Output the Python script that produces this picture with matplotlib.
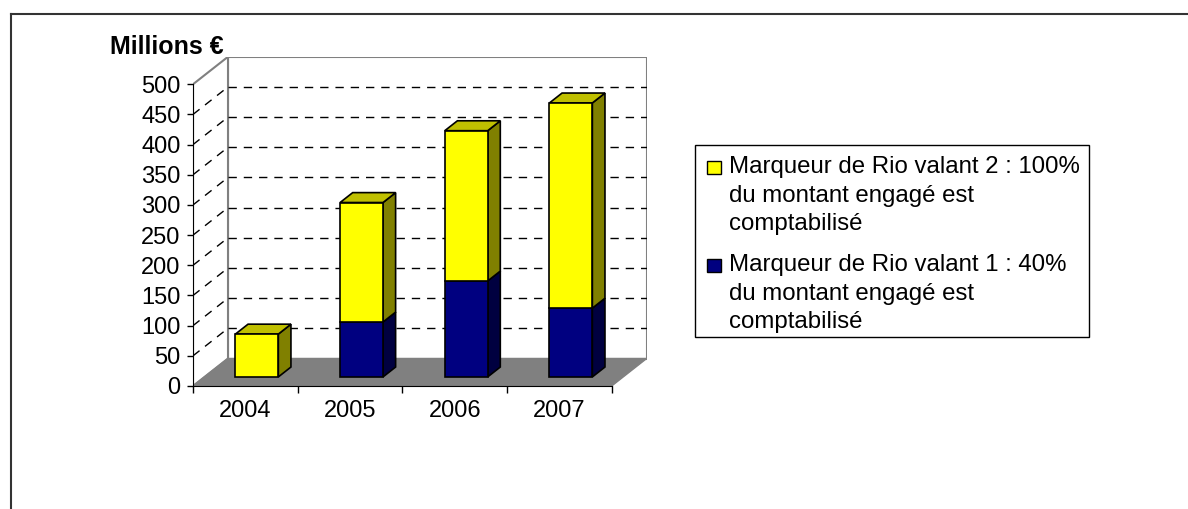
import numpy as np
import matplotlib.pyplot as plt
from matplotlib.patches import Polygon, Rectangle
from matplotlib.lines import Line2D

plt.rcParams['font.family'] = ['Liberation Sans', 'DejaVu Sans']

# data (millions of euros)
years = ['2004', '2005', '2006', '2007']
rio_1 = [0, 91, 159, 114]      # marqueur 1 : 40 %
rio_2 = [71, 198, 249, 340]    # marqueur 2 : 100 %
labels = ['Marqueur de Rio valant 2 : 100%\ndu montant engagé est\ncomptabilisé',
          'Marqueur de Rio valant 1 : 40%\ndu montant engagé est\ncomptabilisé']
yticks = list(range(0, 501, 50))

# colours: front / side / top
c_front = {'r1': '#000080', 'r2': '#FFFF00'}
c_side = {'r1': '#000040', 'r2': '#808000'}
c_top = {'r1': '#000060', 'r2': '#C0C000'}

W, H = 1188, 509
fig = plt.figure(figsize=(W / 100, H / 100), dpi=100)

# pixel layout of the pseudo-3d box
ax_left = 193
y_zero = 386
px_unit = 0.6035
cat_px = (611.7 - 193) / 4
dx_px, dy_px = 35, 27.5
DX = dx_px / cat_px
DY = dy_px / px_unit
ymax = 500
n = len(years)
top_px = y_zero - (ymax + DY) * px_unit
ax = fig.add_axes([ax_left / W, 1 - y_zero / H,
                   (n * cat_px + dx_px) / W, (y_zero - top_px) / H])
ax.set_xlim(-0.5, n - 0.5 + DX)
ax.set_ylim(0, ymax + DY)
ax.patch.set_visible(False)

xl, xr = -0.5, n - 0.5
wall_kw = dict(facecolor='white', edgecolor='#808080', lw=1.5, zorder=1)
ax.add_patch(Polygon([(xl + DX, DY), (xr + DX, DY), (xr + DX, ymax + DY),
                      (xl + DX, ymax + DY)], closed=True, **wall_kw))
ax.add_patch(Polygon([(xl, 0), (xl + DX, DY), (xl + DX, ymax + DY), (xl, ymax)],
                     closed=True, **wall_kw))
ax.add_patch(Polygon([(xl, 0), (xr, 0), (xr + DX, DY), (xl + DX, DY)], closed=True,
                     facecolor='#808080', edgecolor='#808080', lw=1, zorder=1.2))

# dashed gridlines on back wall and side wall
for v in yticks[1:-1]:
    ax.plot([xl + DX, xr + DX], [v + DY, v + DY], color='black', lw=1,
            ls=(0, (6, 5)), zorder=1.5)
    ax.plot([xl, xl + DX], [v, v + DY], color='black', lw=1,
            ls=(0, (6, 5)), zorder=1.5)

# bars
F0, F1 = 0.33, 0.69
BW = 0.41
ddx, ddy = (F1 - F0) * DX, (F1 - F0) * DY


def draw_segment(i, bottom, height, key, is_top):
    if height <= 0:
        return
    xc = i + F0 * DX
    ax.bar(xc, height, width=BW, bottom=bottom + F0 * DY, color=c_front[key],
           edgecolor='black', lw=1.2, zorder=4)
    xb = xc + BW / 2
    xa = xc - BW / 2
    ya, yb = bottom + F0 * DY, bottom + height + F0 * DY
    ax.add_patch(Polygon([(xb, ya), (xb + ddx, ya + ddy), (xb + ddx, yb + ddy), (xb, yb)],
                         closed=True, facecolor=c_side[key], edgecolor='black',
                         lw=1.2, zorder=3))
    if is_top:
        ax.add_patch(Polygon([(xa, yb), (xb, yb), (xb + ddx, yb + ddy), (xa + ddx, yb + ddy)],
                             closed=True, facecolor=c_top[key], edgecolor='black',
                             lw=1.2, zorder=3))


for i in range(n):
    draw_segment(i, 0, rio_1[i], 'r1', rio_2[i] == 0)
    draw_segment(i, rio_1[i], rio_2[i], 'r2', True)

# axes
for s in ['top', 'right']:
    ax.spines[s].set_visible(False)
ax.spines['left'].set_bounds(0, ymax)
ax.spines['bottom'].set_bounds(xl, xr)
ax.spines['left'].set_zorder(5)
ax.spines['bottom'].set_zorder(5)
ax.set_yticks(yticks)
ax.tick_params(axis='y', direction='out', length=4, width=1, pad=5, labelsize=17)
ax.set_xticks(np.arange(n + 1) - 0.5)
ax.set_xticklabels([])
ax.set_xticks(np.arange(n), minor=True)
ax.set_xticklabels(years, minor=True)
ax.tick_params(axis='x', which='major', direction='out', length=5, width=1)
ax.tick_params(axis='x', which='minor', length=0, pad=10, labelsize=17)

fig.text(167 / W, 1 - 47 / H, 'Millions €', fontsize=18, fontweight='bold',
         ha='center', va='center')

# outer frame (left and top only visible)
fig.add_artist(Line2D([11 / W, 11 / W], [0, 1 - 14 / H], color='#333333', lw=1.5,
                      transform=fig.transFigure))
fig.add_artist(Line2D([11 / W, 1], [1 - 14 / H, 1 - 14 / H], color='#333333', lw=1.5,
                      transform=fig.transFigure))

# legend
fig.add_artist(Rectangle((695 / W, 1 - 337 / H), (1089 - 695) / W, (337 - 145) / H,
                         transform=fig.transFigure, facecolor='white',
                         edgecolor='black', lw=1))
leg_keys = ['r2', 'r1']
leg_base = [174, 272]
line_px = 28
for key, lab, yb in zip(leg_keys, labels, leg_base):
    fig.add_artist(Rectangle((707 / W, 1 - yb / H), 14 / W, 13 / H,
                             transform=fig.transFigure, facecolor=c_front[key],
                             edgecolor='black', lw=1))
    # baseline alignment uses the last line of a multi-line text
    y_last = yb + 2 * line_px
    fig.text(729 / W, 1 - y_last / H, lab, fontsize=17.3, va='baseline', ha='left',
             linespacing=1.37)

fig.savefig('out.png', dpi=100)
